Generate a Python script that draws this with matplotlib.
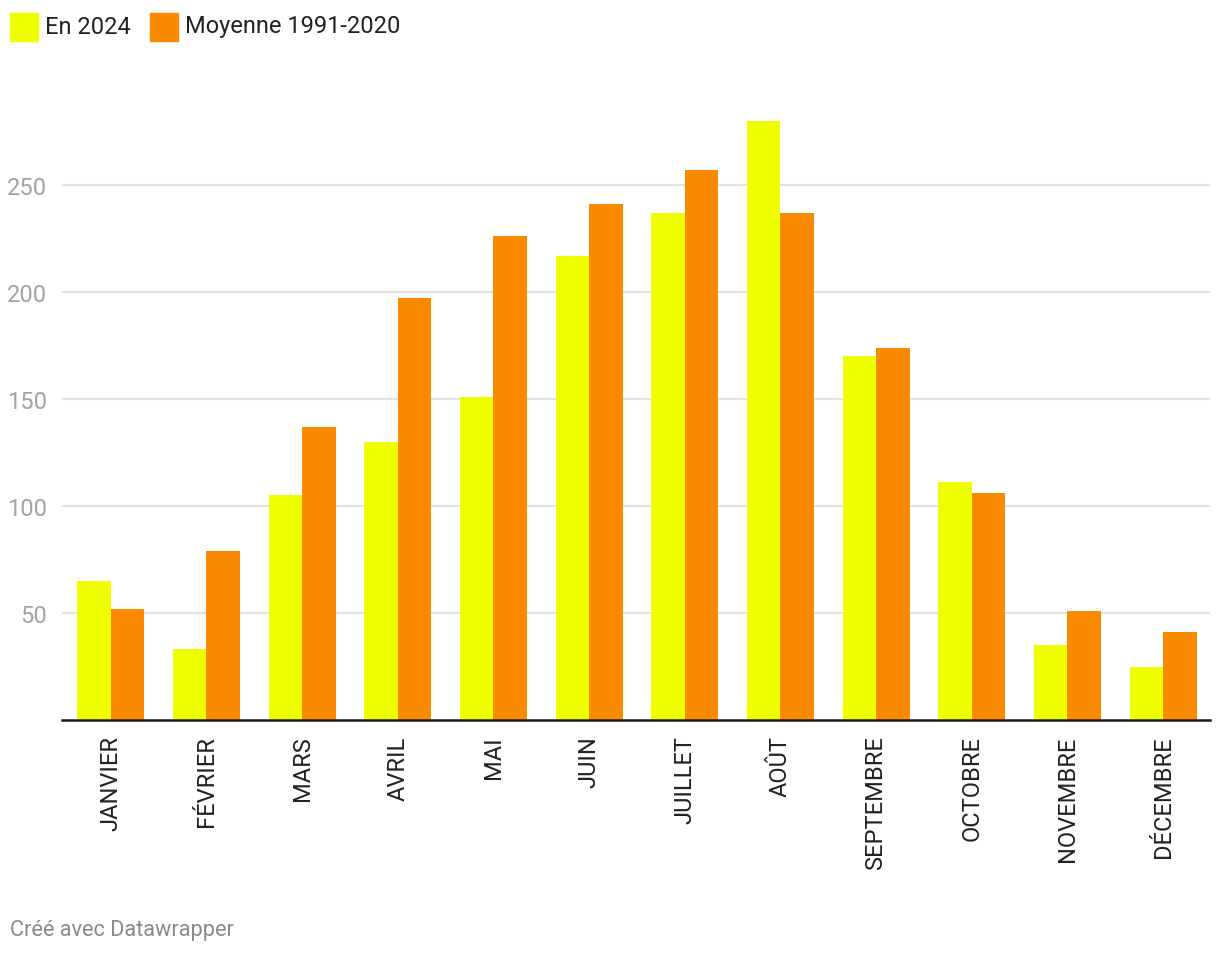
import matplotlib.pyplot as plt
import numpy as np

plt.rcParams['font.family'] = ['Roboto', 'DejaVu Sans']

mois = ['JANVIER', 'FÉVRIER', 'MARS', 'AVRIL', 'MAI', 'JUIN', 'JUILLET',
        'AOÛT', 'SEPTEMBRE', 'OCTOBRE', 'NOVEMBRE', 'DÉCEMBRE']
en_2024 = [65, 33, 105, 130, 151, 217, 237, 280, 170, 111, 35, 25]
moyenne = [52, 79, 137, 197, 226, 241, 257, 237, 174, 106, 51, 41]

c_jaune = '#f0ff00'
c_orange = '#fa8b00'

W, H = 1220, 954
fig = plt.figure(figsize=(W / 100, H / 100), dpi=100)
# axes placed in pixel units
left, right, top, bottom = 62, 1210, 110, 721
ax = fig.add_axes([left / W, 1 - bottom / H, (right - left) / W, (bottom - top) / H])

x = np.arange(len(mois))
w = 0.35
ax.bar(x - w / 2, en_2024, w, color=c_jaune, zorder=3)
ax.bar(x + w / 2, moyenne, w, color=c_orange, zorder=3)

ax.set_xlim(-0.51, 11.49)
ax.set_ylim(0, (bottom - top) / 2.14)
ax.set_yticks([50, 100, 150, 200, 250])
ax.grid(axis='y', color='#e2e2e2', linewidth=1.5, zorder=0)
ax.tick_params(axis='y', length=0, labelsize=17, labelcolor='#a3a3a3', pad=11)
ax.set_xticks(x)
ax.set_xticklabels(mois, rotation=90, fontsize=17, color='#222222', va='top')
ax.tick_params(axis='x', length=0, pad=11)

for s in ['top', 'right', 'left']:
    ax.spines[s].set_visible(False)
ax.spines['bottom'].set_color('#1a1a1a')
ax.spines['bottom'].set_linewidth(1.8)
ax.spines['bottom'].set_zorder(4)

# legend drawn by hand at the top left
def px(xp, yp):
    return xp / W, 1 - yp / H

for (x0, label, col) in [(10, 'En 2024', c_jaune), (150, 'Moyenne 1991-2020', c_orange)]:
    fig.patches.append(plt.Rectangle(px(x0, 42), 28 / W, 28 / H, color=col,
                                     transform=fig.transFigure, figure=fig))
    fig.text(*px(x0 + 35, 27), label, fontsize=17, color='#222222', va='center')

fig.text(*px(10, 931), 'Créé avec Datawrapper', fontsize=15.7, color='#8a8a8a', va='center')

fig.savefig('out.png', dpi=100)
